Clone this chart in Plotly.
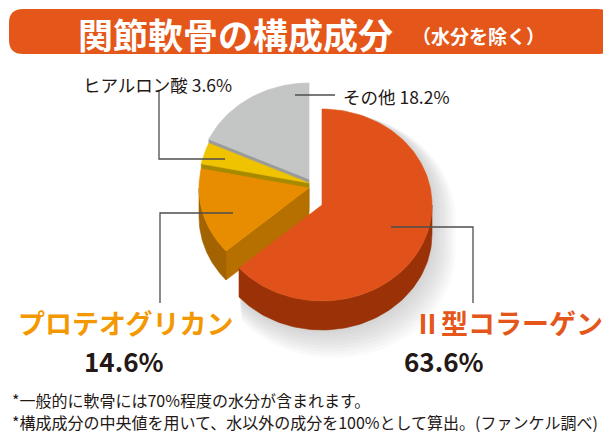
import numpy as np
import plotly.graph_objects as go

# ---------------- data ----------------
components = ["Ⅱ型コラーゲン", "プロテオグリカン", "ヒアルロン酸", "その他"]
values = [63.6, 14.6, 3.6, 18.2]          # percent, clockwise from 12 o'clock
title_main = "関節軟骨の構成成分"
title_sub = "（水分を除く）"
footnotes = [
    "*一般的に軟骨には70%程度の水分が含まれます。",
    "*構成成分の中央値を用いて、水以外の成分を100%として算出。(ファンケル調べ)",
]

# ---------------- style ----------------
W, H = 611, 435
RX, RY, DEPTH = 110, 96, 29
FONT = "Noto Sans CJK JP"
top_colors = ["#E0521A", "#E98D00", "#F0C300", "#C4C5C5"]
wall_colors = ["#9A3107", "#A36300", "#A88A00", "#9A9B9B"]
face_colors = ["#A53608", "#B57000", "#A88A00", "#9A9B9B"]
centers = [(314, 197), (301, 180), (301, 175), (301, 171)]   # exploded positions
draw_order = [3, 2, 1, 0]                                      # back to front

# slice angles (degrees clockwise from top) derived from the values
total = sum(values)
bounds = np.concatenate([[0], np.cumsum(values) / total * 360.0])


def rim(cx, cy, angs, dz=0.0):
    a = np.radians(angs)
    return cx + RX * np.sin(a), cy - RY * np.cos(a) + dz


def visible(normal_deg):
    return np.cos(np.radians(normal_deg)) < -1e-6


fig = go.Figure()


def poly(xs, ys, color, opacity=1.0, lw=0.6, hover=None):
    fig.add_trace(go.Scatter(
        x=list(xs) + [xs[0]], y=list(ys) + [ys[0]], mode="lines", fill="toself",
        fillcolor=color, line=dict(color=color, width=lw), opacity=opacity,
        hoverinfo="text" if hover else "skip", text=hover, showlegend=False))


# soft shadow of the front (exploded) slice
a0, b0 = bounds[0], bounds[1]
cx0, cy0 = centers[0]
for k in range(9, 0, -1):
    s = 1 + 0.012 * k
    ang_top = np.linspace(a0, 90, 30)
    ang_bot = np.linspace(90, b0, 60)
    xt, yt = rim(0, 0, ang_top)
    xb, yb = rim(0, 0, ang_bot, DEPTH)
    xs = np.concatenate([[0], xt, xb, [xb[-1], 0]]) * s + cx0 + 1.3 * k
    ys = np.concatenate([[0], yt, yb, [DEPTH, DEPTH]]) * s + cy0 + 1.6 * k
    poly(xs, ys, "#8a8a8a", opacity=0.045, lw=0)

for i in draw_order:
    a, b = bounds[i], bounds[i + 1]
    cx, cy = centers[i]
    hov = f"{components[i]} {values[i]}%"
    # radial faces
    for ang, nrm in ((a, a - 90), (b, b + 90)):
        if visible(nrm):
            rx_, ry_ = rim(cx, cy, ang)
            xs = [cx, rx_, rx_, cx]
            ys = [cy, ry_, ry_ + DEPTH, cy + DEPTH]
            poly(xs, ys, face_colors[i], hover=hov)
    # outer wall (front half)
    lo, hi = max(a, 90), min(b, 270)
    if hi > lo:
        ang = np.linspace(lo, hi, 80)
        xt, yt = rim(cx, cy, ang)
        xb, yb = rim(cx, cy, ang[::-1], DEPTH)
        poly(np.concatenate([xt, xb]), np.concatenate([yt, yb]), wall_colors[i], hover=hov)
    # top face
    ang = np.linspace(a, b, max(8, int((b - a) / 2)))
    xt, yt = rim(cx, cy, ang)
    poly(np.concatenate([[cx], xt]), np.concatenate([[cy], yt]), top_colors[i], hover=hov)

# ---------------- layout / text ----------------
shapes = []
# title banner
shapes.append(dict(type="path", xref="x", yref="y", layer="below",
                   path="M 15,1 L 590,1 Q 604,1 604,15 L 604,32 Q 604,46 590,46 "
                        "L 15,46 Q 1,46 1,32 L 1,15 Q 1,1 15,1 Z",
                   fillcolor="#E5561A", line=dict(width=0)))
# leader lines
LC = "#4d4d4d"
for pts in ([(151, 83), (151, 151), (217, 151)],
            [(287, 87), (327, 87)],
            [(225, 205), (152, 205), (152, 295)],
            [(383, 219), (465, 219), (465, 295)]):
    path = "M " + " L ".join(f"{x},{y}" for x, y in pts)
    shapes.append(dict(type="path", xref="x", yref="y", path=path,
                       line=dict(color=LC, width=1.3)))

ann = []


def txt(x, y, s, size, color, xanchor="left", bold=False):
    ann.append(dict(x=x, y=y, xref="x", yref="y", text=s, showarrow=False,
                    xanchor=xanchor, yanchor="middle",
                    font=dict(family=FONT, size=size, color=color,
                              weight="bold" if bold else "normal")))


txt(68, 25, title_main, 35, "white", bold=True)
txt(402, 27, title_sub, 19, "white", bold=True)
txt(73, 76, f"{components[2]} {values[2]}%", 17.5, "#231815")
txt(333, 88, f"{components[3]} {values[3]}%", 17.5, "#231815")
txt(117, 314, components[1], 27, "#F39800", xanchor="center", bold=True)
txt(116, 352, f"{values[1]}%", 26, "#231815", xanchor="center", bold=True)
txt(500, 314, components[0], 27, "#E5561A", xanchor="center", bold=True)
txt(436, 352, f"{values[0]}%", 26, "#231815", xanchor="center", bold=True)
txt(2, 392, footnotes[0], 16, "#231815")
txt(2, 414, footnotes[1], 16, "#231815")

fig.update_layout(
    width=W, height=H, margin=dict(l=0, r=0, t=0, b=0),
    paper_bgcolor="white", plot_bgcolor="white", showlegend=False,
    xaxis=dict(range=[0, W], visible=False, fixedrange=True),
    yaxis=dict(range=[H, 0], visible=False, fixedrange=True),
    shapes=shapes, annotations=ann,
)

fig.write_html("out.html")
